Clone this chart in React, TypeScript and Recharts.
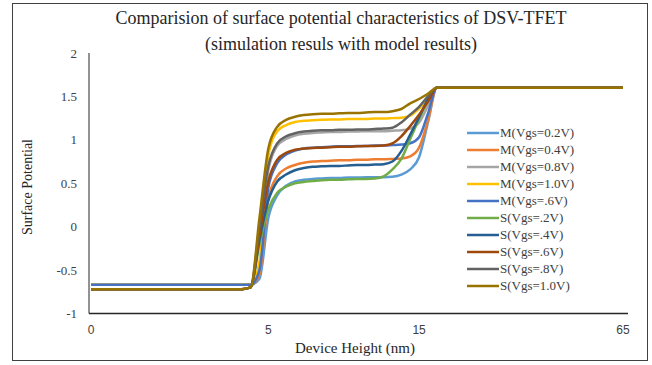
import React from 'react';
import { LineChart, Line, XAxis, YAxis, Legend } from 'recharts';

// Device height categories (nm), one per plotted point
const heightNm = [
  0, 0.25, 0.5, 0.75, 1, 1.25, 1.5, 1.75, 2, 2.25, 2.5, 2.75, 3, 3.25, 3.5, 3.75, 4, 4.25, 4.5, 4.75, 5,
  5.6, 6.2, 6.8, 7.4, 7.9, 8.5, 9.1, 9.7, 10.3, 10.9, 11.5, 12.1, 12.6, 13.2, 13.8, 14.4, 15,
  17.2, 19.3, 21.5, 23.7, 25.9, 28, 30.2, 32.4, 34.6, 36.7, 38.9, 41.1, 43.3, 45.4, 47.6, 49.8, 52, 54.1, 56.3, 58.5, 60.7, 62.8, 65,
];

const xTickValues = [0, 5, 15, 65];
const yTickValues = [-1, -0.5, 0, 0.5, 1, 1.5, 2];

const seriesNames = [
  'M(Vgs=0.2V)', 'M(Vgs=0.4V)', 'M(Vgs=0.8V)', 'M(Vgs=1.0V)', 'M(Vgs=.6V)',
  'S(Vgs=.2V)', 'S(Vgs=.4V)', 'S(Vgs=.6V)', 'S(Vgs=.8V)', 'S(Vgs=1.0V)',
];
const seriesColors = [
  '#5B9BD5', '#ED7D31', '#A5A5A5', '#FFC000', '#4472C4',
  '#70AD47', '#255E91', '#9E480E', '#636363', '#997300',
];

const mVgs02 = [
  -0.67, -0.67, -0.67, -0.67, -0.67, -0.67, -0.67, -0.67, -0.67, -0.67,
  -0.67, -0.67, -0.67, -0.67, -0.67, -0.67, -0.67, -0.67, -0.67,
  -0.6, 0.1, 0.36, 0.47, 0.52, 0.54, 0.55, 0.555, 0.56, 0.56, 0.565, 0.565, 0.57, 0.57, 0.57, 0.575, 0.6, 0.66, 0.8, 1.2,
  1.6, 1.6, 1.6, 1.6, 1.6, 1.6, 1.6, 1.6, 1.6, 1.6, 1.6,
  1.6, 1.6, 1.6, 1.6, 1.6, 1.6, 1.6, 1.6, 1.6, 1.6, 1.6,
];
const mVgs04 = [
  -0.67, -0.67, -0.67, -0.67, -0.67, -0.67, -0.67, -0.67, -0.67, -0.67,
  -0.67, -0.67, -0.67, -0.67, -0.67, -0.67, -0.67, -0.67, -0.67,
  -0.55, 0.32, 0.58, 0.67, 0.71, 0.735, 0.75, 0.755, 0.76, 0.765, 0.765, 0.77, 0.77, 0.775, 0.775, 0.78, 0.785, 0.81, 0.91, 1.22,
  1.6, 1.6, 1.6, 1.6, 1.6, 1.6, 1.6, 1.6, 1.6, 1.6, 1.6,
  1.6, 1.6, 1.6, 1.6, 1.6, 1.6, 1.6, 1.6, 1.6, 1.6, 1.6,
];
const mVgs08 = [
  -0.67, -0.67, -0.67, -0.67, -0.67, -0.67, -0.67, -0.67, -0.67, -0.67,
  -0.67, -0.67, -0.67, -0.67, -0.67, -0.67, -0.67, -0.67, -0.67,
  -0.45, 0.65, 0.93, 1.01, 1.05, 1.07, 1.08, 1.085, 1.09, 1.09, 1.095, 1.095, 1.1, 1.1, 1.1, 1.105, 1.11, 1.13, 1.2, 1.39,
  1.6, 1.6, 1.6, 1.6, 1.6, 1.6, 1.6, 1.6, 1.6, 1.6, 1.6,
  1.6, 1.6, 1.6, 1.6, 1.6, 1.6, 1.6, 1.6, 1.6, 1.6, 1.6,
];
const mVgs10 = [
  -0.67, -0.67, -0.67, -0.67, -0.67, -0.67, -0.67, -0.67, -0.67, -0.67,
  -0.67, -0.67, -0.67, -0.67, -0.67, -0.67, -0.67, -0.67, -0.67,
  -0.4, 0.82, 1.1, 1.17, 1.205, 1.22, 1.225, 1.23, 1.235, 1.235, 1.24, 1.24, 1.24, 1.245, 1.245, 1.25, 1.255, 1.28, 1.36, 1.47,
  1.6, 1.6, 1.6, 1.6, 1.6, 1.6, 1.6, 1.6, 1.6, 1.6, 1.6,
  1.6, 1.6, 1.6, 1.6, 1.6, 1.6, 1.6, 1.6, 1.6, 1.6, 1.6,
];
const mVgs06 = [
  -0.67, -0.67, -0.67, -0.67, -0.67, -0.67, -0.67, -0.67, -0.67, -0.67,
  -0.67, -0.67, -0.67, -0.67, -0.67, -0.67, -0.67, -0.67, -0.67,
  -0.5, 0.45, 0.73, 0.83, 0.875, 0.9, 0.91, 0.915, 0.92, 0.925, 0.925, 0.93, 0.93, 0.935, 0.935, 0.94, 0.945, 0.96, 1.03, 1.3,
  1.6, 1.6, 1.6, 1.6, 1.6, 1.6, 1.6, 1.6, 1.6, 1.6, 1.6,
  1.6, 1.6, 1.6, 1.6, 1.6, 1.6, 1.6, 1.6, 1.6, 1.6, 1.6,
];
const sVgs02 = [
  -0.72, -0.72, -0.72, -0.72, -0.72, -0.72, -0.72, -0.72, -0.72, -0.72,
  -0.72, -0.72, -0.72, -0.72, -0.72, -0.72, -0.72, -0.72, -0.7,
  -0.2, 0.2, 0.39, 0.46, 0.5, 0.515, 0.525, 0.535, 0.54, 0.54, 0.545, 0.55, 0.55, 0.555, 0.58, 0.66, 0.78, 1.01, 1.24, 1.45,
  1.6, 1.6, 1.6, 1.6, 1.6, 1.6, 1.6, 1.6, 1.6, 1.6, 1.6,
  1.6, 1.6, 1.6, 1.6, 1.6, 1.6, 1.6, 1.6, 1.6, 1.6, 1.6,
];
const sVgs04 = [
  -0.72, -0.72, -0.72, -0.72, -0.72, -0.72, -0.72, -0.72, -0.72, -0.72,
  -0.72, -0.72, -0.72, -0.72, -0.72, -0.72, -0.72, -0.72, -0.7,
  -0.15, 0.3, 0.52, 0.6, 0.65, 0.675, 0.69, 0.695, 0.7, 0.7, 0.705, 0.71, 0.71, 0.715, 0.72, 0.75, 0.87, 1.06, 1.26, 1.47,
  1.6, 1.6, 1.6, 1.6, 1.6, 1.6, 1.6, 1.6, 1.6, 1.6, 1.6,
  1.6, 1.6, 1.6, 1.6, 1.6, 1.6, 1.6, 1.6, 1.6, 1.6, 1.6,
];
const sVgs06 = [
  -0.72, -0.72, -0.72, -0.72, -0.72, -0.72, -0.72, -0.72, -0.72, -0.72,
  -0.72, -0.72, -0.72, -0.72, -0.72, -0.72, -0.72, -0.72, -0.7,
  -0.1, 0.52, 0.77, 0.85, 0.885, 0.9, 0.905, 0.91, 0.915, 0.92, 0.92, 0.925, 0.93, 0.93, 0.935, 0.96, 1.04, 1.16, 1.29, 1.44,
  1.6, 1.6, 1.6, 1.6, 1.6, 1.6, 1.6, 1.6, 1.6, 1.6, 1.6,
  1.6, 1.6, 1.6, 1.6, 1.6, 1.6, 1.6, 1.6, 1.6, 1.6, 1.6,
];
const sVgs08 = [
  -0.72, -0.72, -0.72, -0.72, -0.72, -0.72, -0.72, -0.72, -0.72, -0.72,
  -0.72, -0.72, -0.72, -0.72, -0.72, -0.72, -0.72, -0.72, -0.7,
  0.0, 0.7, 0.96, 1.04, 1.075, 1.095, 1.105, 1.11, 1.11, 1.115, 1.115, 1.12, 1.12, 1.125, 1.13, 1.14, 1.2, 1.29, 1.38, 1.5,
  1.6, 1.6, 1.6, 1.6, 1.6, 1.6, 1.6, 1.6, 1.6, 1.6, 1.6,
  1.6, 1.6, 1.6, 1.6, 1.6, 1.6, 1.6, 1.6, 1.6, 1.6, 1.6,
];
const sVgs10 = [
  -0.72, -0.72, -0.72, -0.72, -0.72, -0.72, -0.72, -0.72, -0.72, -0.72,
  -0.72, -0.72, -0.72, -0.72, -0.72, -0.72, -0.72, -0.72, -0.7,
  0.1, 0.9, 1.15, 1.23, 1.265, 1.285, 1.295, 1.3, 1.3, 1.305, 1.31, 1.31, 1.315, 1.32, 1.32, 1.33, 1.355, 1.42, 1.47, 1.53,
  1.6, 1.6, 1.6, 1.6, 1.6, 1.6, 1.6, 1.6, 1.6, 1.6, 1.6,
  1.6, 1.6, 1.6, 1.6, 1.6, 1.6, 1.6, 1.6, 1.6, 1.6, 1.6,
];

const seriesValues = [mVgs02, mVgs04, mVgs08, mVgs10, mVgs06, sVgs02, sVgs04, sVgs06, sVgs08, sVgs10];

const data = heightNm.map((h, i) => {
  const row: Record<string, number> = { h };
  seriesValues.forEach((vals, k) => {
    row['s' + k] = vals[i];
  });
  return row;
});

const serif = '"Liberation Serif", "Times New Roman", serif';
const textColor = '#404040';

const LegendBox = () => (
  <div style={{ fontFamily: serif, fontSize: 13, color: textColor }}>
    {seriesNames.map((name, k) => (
      <div key={name} style={{ display: 'flex', alignItems: 'center', height: 17, whiteSpace: 'nowrap' }}>
        <svg width={32} height={6} style={{ marginRight: 1 }}>
          <line x1={0} y1={3} x2={32} y2={3} stroke={seriesColors[k]} strokeWidth={2.5} />
        </svg>
        <span>{name}</span>
      </div>
    ))}
  </div>
);

export default function App() {
  return (
    <div style={{ position: 'absolute', left: 0, top: 0, width: 652, height: 365, background: '#fff' }}>
      <div
        style={{
          position: 'absolute', left: 12, top: 3, width: 636, height: 358,
          border: '1px solid #404040', boxSizing: 'border-box',
        }}
      />
      <LineChart
        width={652}
        height={365}
        data={data}
        margin={{ top: 53, right: 24, bottom: 21.5, left: 29 }}
      >
        <XAxis
          dataKey="h"
          type="category"
          ticks={xTickValues}
          interval={0}
          padding={{ left: 2, right: 5 }}
          height={30}
          tickLine={false}
          tickSize={4}
          tickMargin={8}
          axisLine={{ stroke: '#262626', strokeWidth: 1.3 }}
          tick={{ fontFamily: '"Liberation Sans", Arial, sans-serif', fontSize: 12, fill: textColor }}
        />
        <YAxis
          type="number"
          domain={[-1, 2]}
          ticks={yTickValues}
          interval={0}
          width={60}
          tickLine={false}
          tickSize={4}
          tickMargin={8}
          axisLine={{ stroke: '#262626', strokeWidth: 1 }}
          tick={{ fontFamily: serif, fontSize: 13, fill: textColor }}
        />
        <Legend
          layout="vertical"
          align="center"
          verticalAlign="middle"
          content={() => <LegendBox />}
          wrapperStyle={{ position: 'absolute', left: 467, top: 124, width: 150, height: 175 }}
        />
        {seriesNames.map((name, k) => (
          <Line
            key={name}
            name={name}
            dataKey={'s' + k}
            type="monotone"
            stroke={seriesColors[k]}
            strokeWidth={2.5}
            dot={false}
            activeDot={false}
            isAnimationActive={false}
          />
        ))}
      </LineChart>
      <div
        style={{
          position: 'absolute', left: 91, width: 500, top: 5, textAlign: 'center',
          fontFamily: serif, fontSize: 18, color: '#262626', lineHeight: '26px',
        }}
      >
        Comparision of surface potential characteristics of DSV-TFET
        <br />
        (simulation resuls with model results)
      </div>
      <div
        style={{
          position: 'absolute', left: 255, width: 200, top: 340, textAlign: 'center',
          fontFamily: serif, fontSize: 15, color: '#262626',
        }}
      >
        Device Height (nm)
      </div>
      <div
        style={{
          position: 'absolute', left: 28 - 100, width: 200, top: 187 - 9, height: 18, textAlign: 'center',
          fontFamily: serif, fontSize: 14, color: '#262626', transform: 'rotate(-90deg)', lineHeight: '18px',
        }}
      >
        Surface Potential
      </div>
    </div>
  );
}
